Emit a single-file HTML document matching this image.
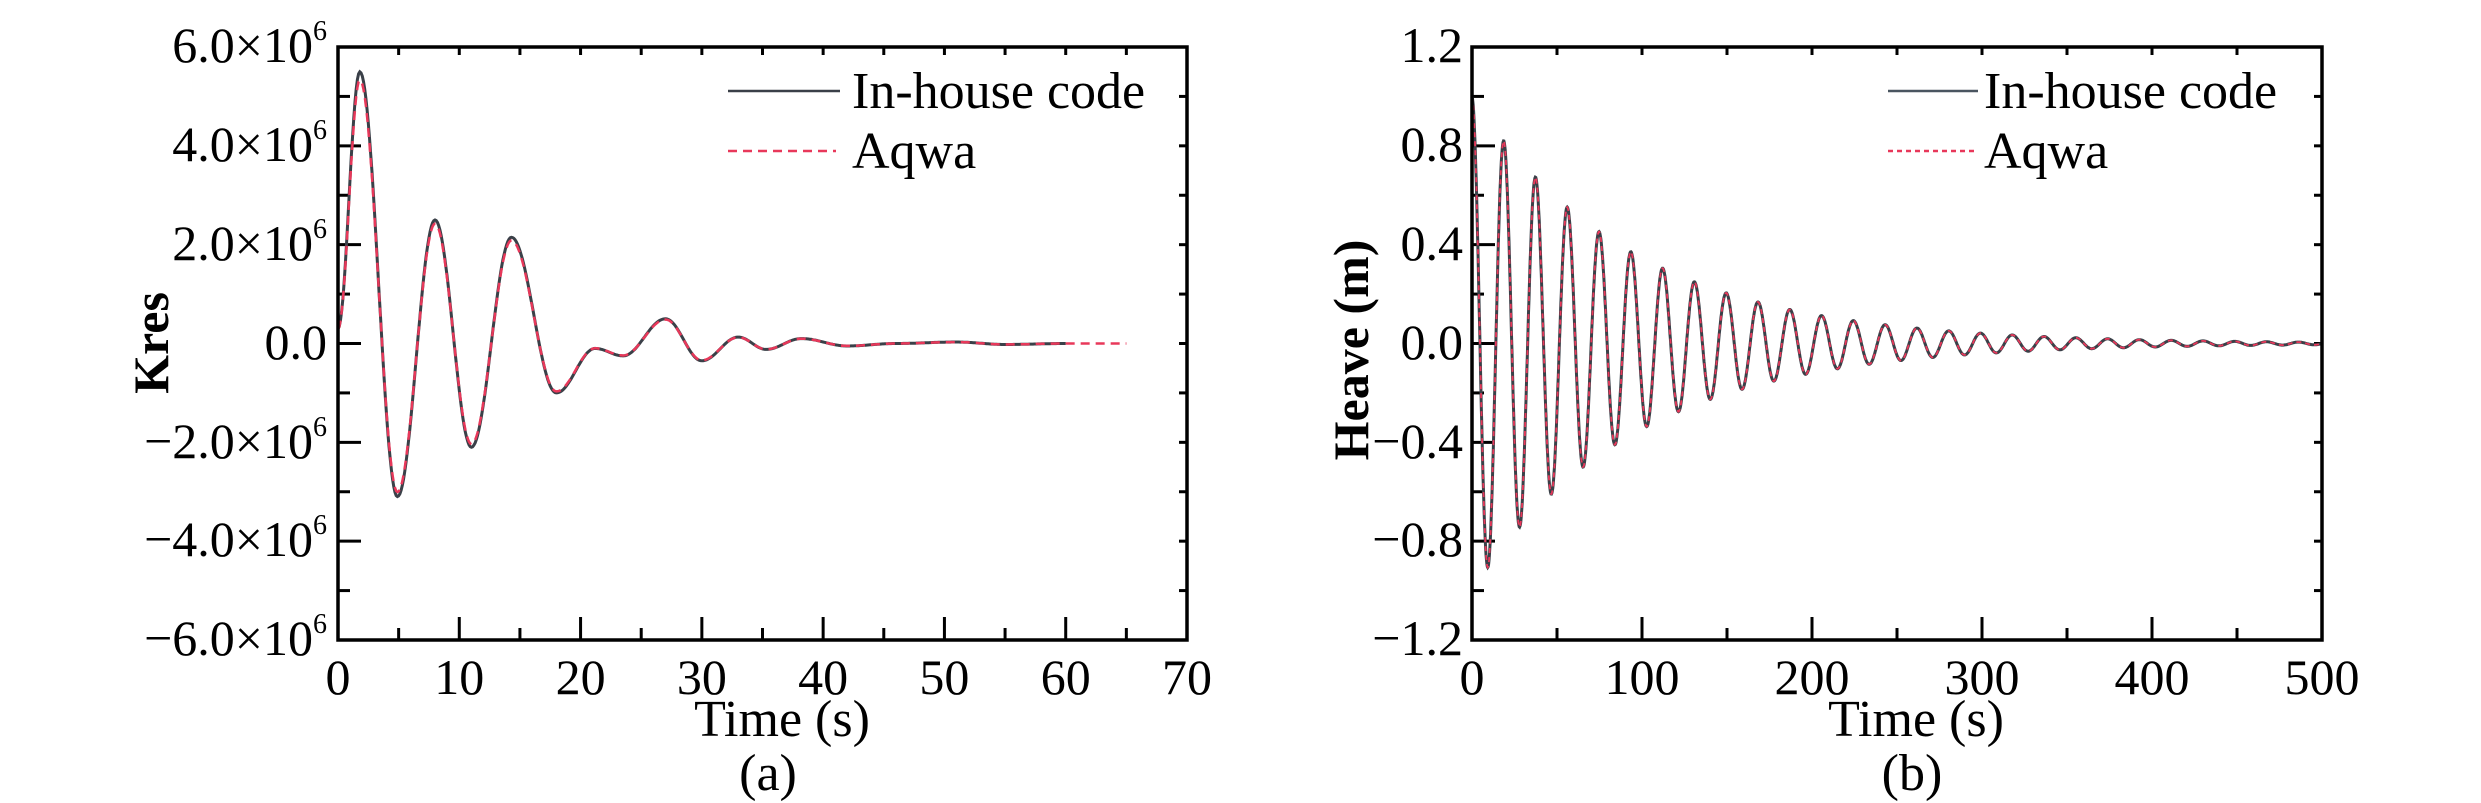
<!DOCTYPE html>
<html><head><meta charset="utf-8"><style>
html,body{margin:0;padding:0;background:#fff;}
svg{display:block;}
svg text{font-family:"Liberation Serif","Times New Roman",serif !important;fill:#000;}
</style></head><body>
<svg id="s" width="2481" height="803" viewBox="0 0 2481 803" xmlns="http://www.w3.org/2000/svg" font-family="Liberation Serif, serif">
<rect width="2481" height="803" fill="#fff"/>
<g id="g"></g>
<g font-size="50" text-anchor="end" font-family="Liberation Serif, serif">
<text x="327" y="62">6.0×10<tspan font-size="28" dy="-22">6</tspan></text>
<text x="327" y="161">4.0×10<tspan font-size="28" dy="-22">6</tspan></text>
<text x="327" y="260">2.0×10<tspan font-size="28" dy="-22">6</tspan></text>
<text x="327" y="359">0.0</text>
<text x="327" y="458">−2.0×10<tspan font-size="28" dy="-22">6</tspan></text>
<text x="327" y="556">−4.0×10<tspan font-size="28" dy="-22">6</tspan></text>
<text x="327" y="655">−6.0×10<tspan font-size="28" dy="-22">6</tspan></text>
</g>
<g font-size="50" text-anchor="end" font-family="Liberation Serif, serif">
<text x="1463" y="62">1.2</text>
<text x="1463" y="161">0.8</text>
<text x="1463" y="260">0.4</text>
<text x="1463" y="359">0.0</text>
<text x="1463" y="458">−0.4</text>
<text x="1463" y="556">−0.8</text>
<text x="1463" y="655">−1.2</text>
</g>
<g font-size="50" text-anchor="middle" id="xl" font-family="Liberation Serif, serif"></g>
<g font-size="52" text-anchor="middle" font-family="Liberation Serif, serif">
<text x="782" y="736">Time (s)</text>
<text x="768" y="790">(a)</text>
<text x="1916" y="736">Time (s)</text>
<text x="1912" y="790">(b)</text>
</g>
<text font-size="50" font-weight="bold" text-anchor="middle" font-family="Liberation Serif, serif" transform="translate(168,343) rotate(-90)">Kres</text>
<text font-size="50" font-weight="bold" text-anchor="middle" font-family="Liberation Serif, serif" transform="translate(1368,350) rotate(-90)">Heave (m)</text>
<line x1="728" y1="91" x2="840" y2="91" stroke="#3a4048" stroke-width="2.5"/>
<line x1="728" y1="151" x2="836" y2="151" stroke="#e8385a" stroke-width="2.5" stroke-dasharray="9 6"/>
<text x="852" y="108" font-size="52" font-family="Liberation Serif, serif">In-house code</text>
<text x="852" y="168" font-size="52" font-family="Liberation Serif, serif">Aqwa</text>
<line x1="1888" y1="91" x2="1978" y2="91" stroke="#4a5560" stroke-width="2.5"/>
<line x1="1888" y1="151" x2="1974" y2="151" stroke="#e8385a" stroke-width="2.5" stroke-dasharray="5 4"/>
<text x="1984" y="108" font-size="52" font-family="Liberation Serif, serif">In-house code</text>
<text x="1984" y="168" font-size="52" font-family="Liberation Serif, serif">Aqwa</text>
</svg>
<script>
var NS="http://www.w3.org/2000/svg",g=document.getElementById("g"),xl=document.getElementById("xl");
function el(n,a,p){var e=document.createElementNS(NS,n);for(var k in a)e.setAttribute(k,a[k]);(p||g).appendChild(e);return e;}
var T=47,B=640;
function axes(L,R,xmax,xmaj,xmin,yN){
  var W=R-L;
  for(var v=0;v<=xmax+1e-9;v+=xmin){var x=L+v/xmax*W;var maj=Math.abs(v/xmaj-Math.round(v/xmaj))<1e-6;var len=maj?23:12;
    el("line",{x1:x,y1:B,x2:x,y2:B-len,stroke:"#000","stroke-width":3});
    el("line",{x1:x,y1:T,x2:x,y2:T+8,stroke:"#000","stroke-width":3});
    if(maj){var t=el("text",{x:x,y:694},xl);t.textContent=String(Math.round(v));}}
  for(var i=0;i<=yN;i++){var y=T+i*(B-T)/yN;var maj=i%2==0;var len=maj?23:12;
    el("line",{x1:L,y1:y,x2:L+len,y2:y,stroke:"#000","stroke-width":3});
    el("line",{x1:R,y1:y,x2:R-8,y2:y,stroke:"#000","stroke-width":3});}
}
axes(338,1187,70,10,5,12);
axes(1472,2322,500,100,50,12);
var ex=[[0,0.3],[1.8,5.5],[4.9,-3.1],[8,2.5],[11,-2.1],[14.3,2.15],[18,-1.0],[21.2,-0.1],[23.5,-0.25],[27,0.5],[30,-0.35],[33,0.13],[35.3,-0.12],[38.2,0.1],[42,-0.05],[46,0.0],[51,0.03],[55,-0.02],[60,0.0],[65,0]];
function kres(t){for(var i=0;i<ex.length-1;i++){if(t<=ex[i+1][0]){var a=ex[i],b=ex[i+1],f=(t-a[0])/(b[0]-a[0]);f=(1-Math.cos(Math.PI*f))/2;return a[1]+(b[1]-a[1])*f;}}return 0;}
function path(f,t0,t1,dt,X,Y){var d="";for(var t=t0;t<=t1+1e-9;t+=dt){d+=(d?"L":"M")+X(t).toFixed(1)+","+Y(f(t)).toFixed(1);}return d;}
var XL=function(t){return 338+t*849/70},YL=function(v){return 343.5-v*49.4};
el("path",{d:path(kres,0,60,0.1,XL,YL),fill:"none",stroke:"#3a4048","stroke-width":3});
el("path",{d:path(function(t){return kres(t)*0.97},0,65,0.1,XL,YL),fill:"none",stroke:"#e8385a","stroke-width":2.5,"stroke-dasharray":"9 6"});
var w=2*Math.PI/18.7,z=0.0106;
function hv(t){return Math.exp(-z*t)*Math.cos(w*t);}
var XR=function(t){return 1472+t*1.7},YR=function(v){return 343.5-v*247.1};
el("path",{d:path(hv,0,500,0.25,XR,YR),fill:"none",stroke:"#3a4048","stroke-width":3});
el("path",{d:path(hv,0,500,0.25,XR,YR),fill:"none",stroke:"#e8385a","stroke-width":1.8,"stroke-dasharray":"5 4"});
el("rect",{x:338,y:T,width:849,height:B-T,fill:"none",stroke:"#000","stroke-width":3.5});
el("rect",{x:1472,y:T,width:850,height:B-T,fill:"none",stroke:"#000","stroke-width":3.5});
</script>
</body></html>
